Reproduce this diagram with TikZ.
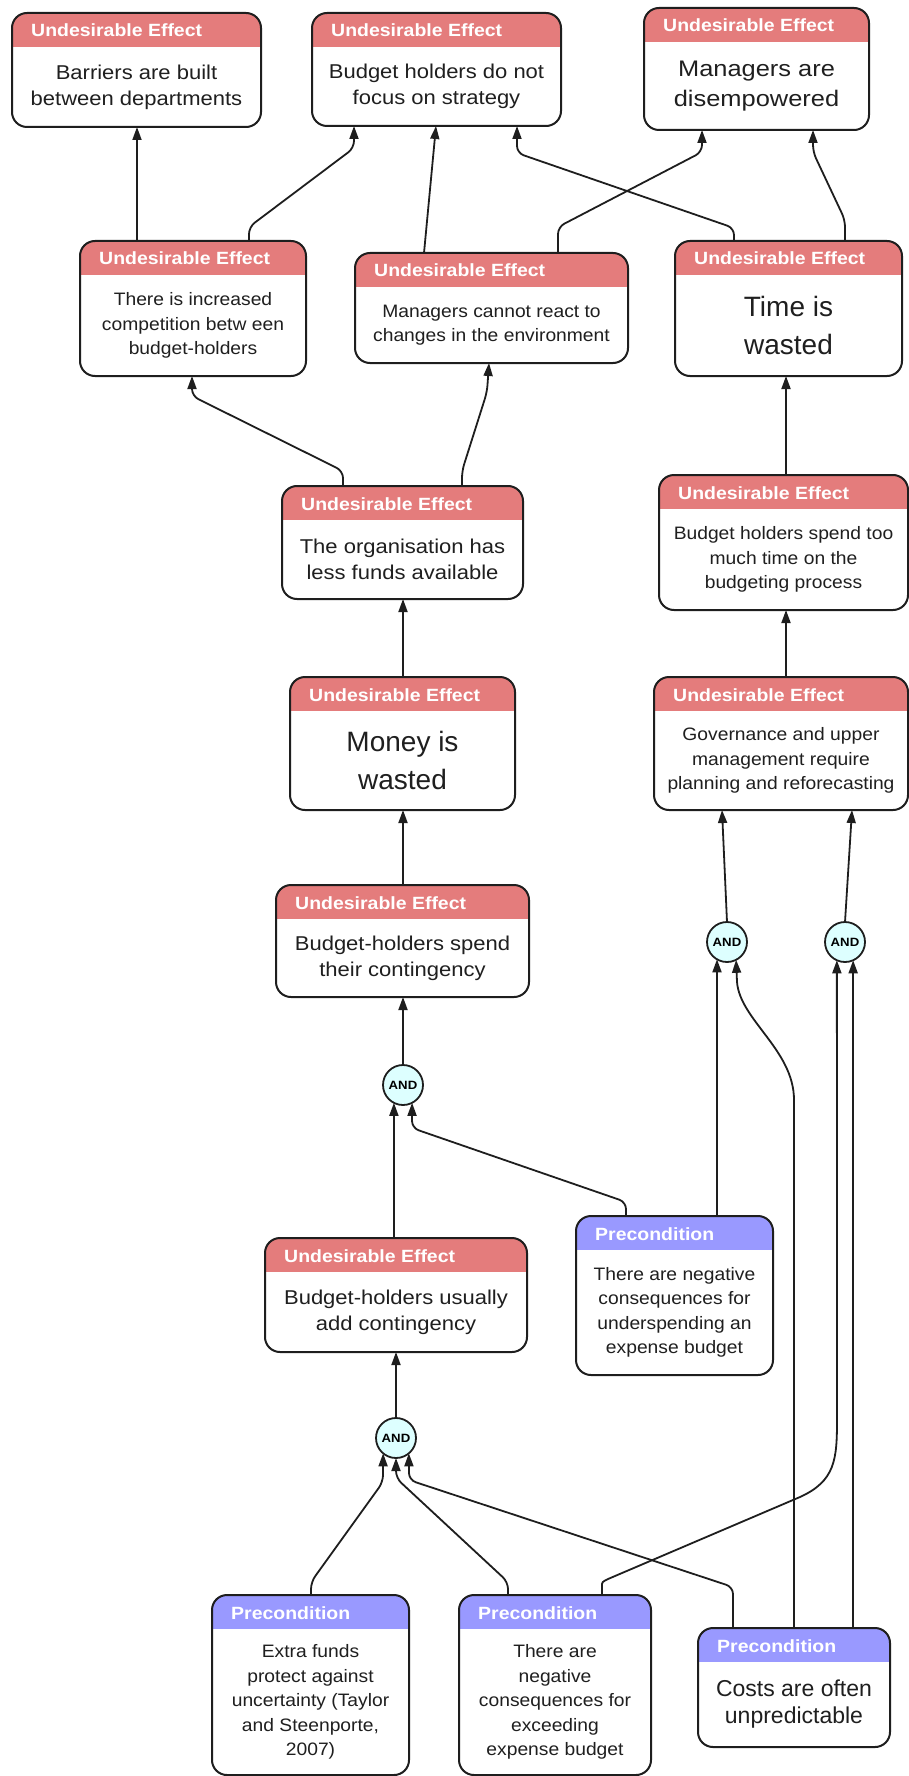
\documentclass[tikz,border=0pt]{standalone}
\usepackage{fontspec}
\setmainfont{Liberation Sans}
\newfontfamily\headfont{Liberation Sans}[FakeStretch=1.1]
\newfontfamily\bodyfont{Liberation Sans}[FakeStretch=1.1]
\newfontfamily\smallfont{Liberation Sans}[FakeStretch=1.07]
\newfontfamily\midfont{Liberation Sans}[FakeStretch=1.13]
\usetikzlibrary{arrows.meta}

\definecolor{uered}{RGB}{228,124,124}
\definecolor{pcblue}{RGB}{153,153,255}
\definecolor{andfill}{RGB}{221,255,255}
\definecolor{edge}{RGB}{30,30,30}

\tikzset{
  cbox/.style={rectangle, rounded corners=15pt, draw=edge, line width=2pt,
    fill=white, inner sep=0pt, outer sep=0pt},
  headtxt/.style={text=white, inner sep=0pt,
    font=\headfont\bfseries\fontsize{17.7}{20}\selectfont},
  bodytxt/.style={text=black!88, align=center, inner sep=0pt},
  normtxt/.style={font=\bodyfont\fontsize{20}{26}\selectfont},
  smalltxt/.style={font=\smallfont\fontsize{18}{24.5}\selectfont},
  bigtxt/.style={font=\fontsize{28}{38}\selectfont},
  midtxt/.style={font=\midfont\fontsize{22.5}{30}\selectfont},
  costtxt/.style={font=\fontsize{23}{27}\selectfont},
  conn/.style={draw=edge, line width=1.8pt, rounded corners=7pt,
    -{Triangle[length=13pt,width=9pt]}},
  andnode/.style={circle, draw=edge, line width=1.8pt, fill=andfill,
    minimum size=40pt, inner sep=0pt, outer sep=0pt,
    font=\headfont\bfseries\fontsize{12}{12}\selectfont}
}

% box: name, left, top, right, bottom, header colour, header text, text style, text
\newcommand\ctbox[9]{%
  \node[cbox, minimum width={(#4-#2)*1pt}, minimum height={(#5-#3)*1pt},
    path picture={\fill[#6, sharp corners] (path picture bounding box.north west) rectangle
      ([yshift=-34pt]path picture bounding box.north east);}]
    (#1) at ({(#2+#4)/2},{(#3+#5)/2}) {};
  \node[headtxt, anchor=base west] (#1-h) at ([xshift=19pt,yshift=-24pt]#1.north west) {#7};
  \node[bodytxt, #8] (#1-t) at ({(#2+#4)/2},{(#3+34+#5)/2}) {#9};
}

\begin{document}
\begin{tikzpicture}[x=1pt,y=-1pt]
\useasboundingbox (0,0) rectangle (909,1776);

% undesirable effects
\ctbox{ueA}{12}{13}{261}{127}{uered}{Undesirable Effect}{normtxt}{Barriers are built\\between departments}
\ctbox{ueB}{312}{13}{561}{126}{uered}{Undesirable Effect}{normtxt}{Budget holders do not\\focus on strategy}
\ctbox{ueC}{644}{8}{869}{130}{uered}{Undesirable Effect}{midtxt}{Managers are\\disempowered}
\ctbox{ueD}{80}{241}{306}{376}{uered}{Undesirable Effect}{smalltxt}{There is increased\\competition betw een\\budget-holders}
\ctbox{ueE}{355}{253}{628}{363}{uered}{Undesirable Effect}{smalltxt}{Managers cannot react to\\changes in the environment}
\ctbox{ueF}{675}{241}{902}{376}{uered}{Undesirable Effect}{bigtxt}{Time is\\wasted}
\ctbox{ueG}{282}{486}{523}{599}{uered}{Undesirable Effect}{normtxt}{The organisation has\\less funds available}
\ctbox{ueH}{659}{475}{908}{610}{uered}{Undesirable Effect}{smalltxt}{Budget holders spend too\\much time on the\\budgeting process}
\ctbox{ueI}{290}{677}{515}{810}{uered}{Undesirable Effect}{bigtxt}{Money is\\wasted}
\ctbox{ueJ}{654}{677}{908}{810}{uered}{Undesirable Effect}{smalltxt}{Governance and upper\\management require\\planning and reforecasting}
\ctbox{ueK}{276}{885}{529}{997}{uered}{Undesirable Effect}{normtxt}{Budget-holders spend\\their contingency}
\ctbox{ueL}{265}{1238}{527}{1352}{uered}{Undesirable Effect}{normtxt}{Budget-holders usually\\add contingency}

% preconditions
\ctbox{pcM}{576}{1216}{773}{1375}{pcblue}{Precondition}{smalltxt}{There are negative\\consequences for\\underspending an\\expense budget}
\ctbox{pcN}{212}{1595}{409}{1775}{pcblue}{Precondition}{smalltxt}{Extra funds\\protect against\\uncertainty (Taylor\\and Steenporte,\\2007)}
\ctbox{pcO}{459}{1595}{651}{1775}{pcblue}{Precondition}{smalltxt}{There are\\negative\\consequences for\\exceeding\\expense budget}
\ctbox{pcP}{698}{1628}{890}{1747}{pcblue}{Precondition}{costtxt}{Costs are often\\unpredictable}

% AND junctions
\node[andnode] (and1) at (727,942) {AND};
\node[andnode] (and2) at (845,942) {AND};
\node[andnode] (and3) at (403,1085) {AND};
\node[andnode] (and4) at (396,1438) {AND};

% connectors
\draw[conn] (ueD.north -| 137,0) -- (137,0 |- ueA.south);
\draw[conn] (249,0 |- ueD.north) -- (249,227) -- (354,148) -- (354,0 |- ueB.south);
\draw[conn] (424,0 |- ueE.north) -- (436,0 |- ueB.south);
\draw[conn] (734,0 |- ueF.north) -- (734,228) -- (517,153) -- (517,0 |- ueB.south);
\draw[conn] (558,0 |- ueE.north) -- (558,227) -- (702,152) -- (702,0 |- ueC.south);
\draw[conn] (845,0 |- ueF.north) -- (845,220) -- (813,152) -- (813,0 |- ueC.south);
\draw[conn] (343,0 |- ueG.north) -- (343,471) -- (192,396) -- (192,0 |- ueD.south);
\draw[conn] (462,0 |- ueG.north) -- (462,471) -- (487,392) -- (489,0 |- ueE.south);
\draw[conn] (786,0 |- ueH.north) -- (786,0 |- ueF.south);
\draw[conn] (403,0 |- ueI.north) -- (403,0 |- ueG.south);
\draw[conn] (786,0 |- ueJ.north) -- (786,0 |- ueH.south);
\draw[conn] (403,0 |- ueK.north) -- (403,0 |- ueI.south);
\draw[conn] (and1.north) -- (722,0 |- ueJ.south);
\draw[conn] (and2.north) -- (852,0 |- ueJ.south);
\draw[conn] (and3.north) -- (and3.north |- ueK.south);
\draw[conn] (and3.-117 |- ueL.north) -- (and3.-117);
\draw[conn] (626,0 |- pcM.north) -- (626,1202) -- (412,1128) -- (and3.-63);
\draw[conn] (and1.-120 |- pcM.north) -- (and1.-120);
\draw[conn, sharp corners] (794,0 |- pcP.north) -- (794,1100)
  .. controls (794,1050) and (740,1020) .. (737,982) -- (and1.-63);
\draw[conn, sharp corners] (602,0 |- pcO.north) -- (602,1586)
  .. controls (602,1582) .. (608,1579) -- (800,1497)
  .. controls (835,1481) and (837,1460) .. (837,1420) -- (and2.-114);
\draw[conn] (and2.-66 |- pcP.north) -- (and2.-66);
\draw[conn] (733,0 |- pcP.north) -- (733,1587) -- (409,1480) -- (and4.-50);
\draw[conn] (311,0 |- pcN.north) -- (311,1582) -- (383,1482) -- (and4.-130);
\draw[conn] (508,0 |- pcO.north) -- (508,1582) -- (396,1478) -- (and4.south);
\draw[conn] (and4.north) -- (and4.north |- ueL.south);
\end{tikzpicture}
\end{document}
